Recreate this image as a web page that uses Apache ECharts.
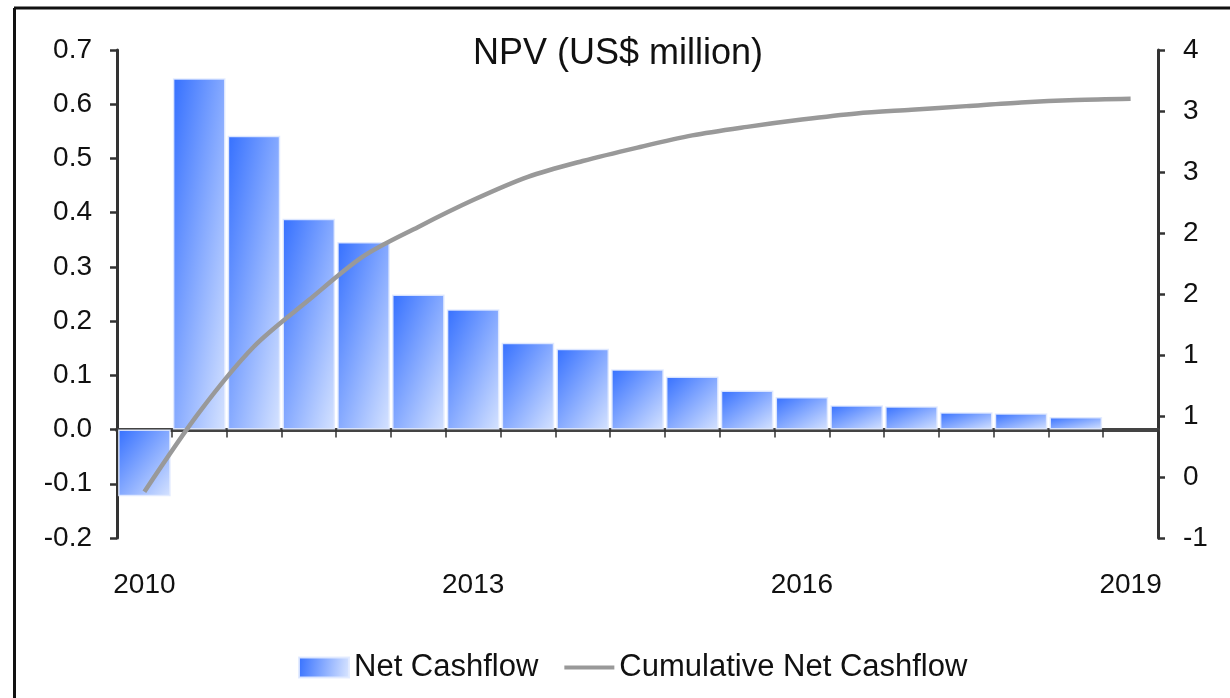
<!DOCTYPE html>
<html>
<head>
<meta charset="utf-8">
<title>NPV</title>
<script src="https://cdn.jsdelivr.net/npm/echarts@6/dist/echarts.min.js"></script>
<style>
  html, body { margin: 0; padding: 0; background: #fff; }
  #chart { width: 1230px; height: 698px; }
</style>
</head>
<body>
<div id="chart"></div>
<script>
// half-year periods, only every 6th one gets a label
const periods = ['2010', '2010.5', '2011', '2011.5', '2012', '2012.5', '2013', '2013.5', '2014', '2014.5',
  '2015', '2015.5', '2016', '2016.5', '2017', '2017.5', '2018', '2018.5', '2019']
const netCashflow = [-0.123, 0.648, 0.542, 0.389, 0.346, 0.249, 0.222, 0.160, 0.149, 0.111,
  0.098, 0.072, 0.060, 0.045, 0.043, 0.032, 0.030, 0.023, null]
const cumulativeCashflow = [-0.12, 0.53, 1.07, 1.45, 1.81, 2.05, 2.27, 2.46, 2.59, 2.70,
  2.80, 2.87, 2.93, 2.98, 3.01, 3.04, 3.07, 3.09, 3.10]
const leftTicks = { min: -0.2, max: 0.7, step: 0.1 }
const rightTicks = { min: -0.5, max: 3.5, step: 0.5 }

const font = '"Liberation Sans", Arial, sans-serif'
const chart = echarts.init(document.getElementById('chart'))

const grid = { left: 117, right: 72, top: 50, bottom: 160 }
const plotW = 1230 - grid.left - grid.right
const plotH = 698 - grid.top - grid.bottom
const blueDark = '#3570ff'
const blueLight = '#d6e3ff'

// excel style rounding, half away from zero
function roundAway(v) {
  return v < 0 ? -Math.round(-v) : Math.round(v)
}

// excel's diagonal fill: colour bands run along the bar's anti-diagonal,
// so work out the gradient vector from the bar's rough pixel size
function barFill(params) {
  const w = plotW / periods.length * 0.96
  const h = Math.max(Math.abs(params.value) / (leftTicks.max - leftTicks.min) * plotH, 1)
  const x2 = 2 * h * h / (h * h + w * w)
  const y2 = 2 * w * w / (h * h + w * w)
  return new echarts.graphic.LinearGradient(0, 0, x2, y2, [
    { offset: 0, color: blueDark },
    { offset: 1, color: blueLight }
  ])
}

const option = {
  backgroundColor: '#fff',
  animation: false,
  title: {
    text: 'NPV (US$ million)',
    left: 468,
    top: 31,
    textStyle: { color: '#111', fontSize: 36, fontWeight: 'normal', fontFamily: font }
  },
  legend: {
    left: 293,
    top: 647,
    itemWidth: 50,
    itemHeight: 20,
    itemGap: 26,
    textStyle: { color: '#111', fontSize: 31, fontFamily: font },
    data: [
      {
        name: 'Net Cashflow',
        icon: 'rect',
        itemStyle: {
          color: new echarts.graphic.LinearGradient(0, 0, 1, 0.3, [
            { offset: 0, color: blueDark },
            { offset: 1, color: blueLight }
          ])
        }
      },
      { name: 'Cumulative Net Cashflow', icon: 'path://M0,0h60v5h-60z' }
    ]
  },
  grid: { left: grid.left, right: grid.right, top: grid.top, bottom: grid.bottom, containLabel: false },
  xAxis: [{
    type: 'category',
    data: periods,
    position: 'bottom',
    axisLine: { show: false, onZero: false },
    axisTick: { show: false },
    axisLabel: {
      interval: 5,
      margin: 33,
      color: '#111',
      fontSize: 28,
      fontFamily: font
    },
    splitLine: { show: false }
  }, {
    // zero line with the little ticks hanging below it
    type: 'category',
    data: periods,
    position: 'bottom',
    axisLine: { show: true, onZero: true, onZeroAxisIndex: 0, lineStyle: { color: '#444', width: 4 } },
    axisTick: { show: true, interval: 0, length: 8, lineStyle: { color: '#333', width: 1.5 } },
    axisLabel: { show: false },
    splitLine: { show: false }
  }],
  yAxis: [{
    type: 'value',
    position: 'left',
    min: leftTicks.min,
    max: leftTicks.max,
    interval: leftTicks.step,
    axisLine: { show: true, onZero: false, lineStyle: { color: '#333', width: 3 } },
    axisTick: { show: true, length: 7, lineStyle: { color: '#333', width: 2.5 } },
    axisLabel: {
      margin: 25,
      color: '#111',
      fontSize: 28,
      fontFamily: font,
      formatter: v => v.toFixed(1)
    },
    splitLine: { show: false }
  }, {
    type: 'value',
    position: 'right',
    min: rightTicks.min,
    max: rightTicks.max,
    interval: rightTicks.step,
    axisLine: { show: true, onZero: false, lineStyle: { color: '#333', width: 3 } },
    axisTick: { show: true, length: 7, lineStyle: { color: '#333', width: 2.5 } },
    axisLabel: {
      margin: 25,
      color: '#111',
      fontSize: 28,
      fontFamily: font,
      formatter: v => String(roundAway(v))
    },
    splitLine: { show: false }
  }],
  series: [{
    name: 'Net Cashflow',
    type: 'bar',
    xAxisIndex: 0,
    yAxisIndex: 0,
    data: netCashflow,
    barCategoryGap: '4%',
    itemStyle: {
      color: barFill,
      borderColor: 'rgba(225,234,255,0.9)',
      borderWidth: 1.5
    }
  }, {
    name: 'Cumulative Net Cashflow',
    type: 'line',
    xAxisIndex: 0,
    yAxisIndex: 1,
    data: cumulativeCashflow,
    smooth: 0.3,
    symbol: 'none',
    lineStyle: { color: '#999', width: 4.5 },
    itemStyle: { color: '#999' }
  }],
  graphic: [{
    // frame: top and left edges only
    type: 'line',
    shape: { x1: 14, y1: 8, x2: 1230, y2: 8 },
    style: { stroke: '#111', lineWidth: 3 }
  }, {
    type: 'line',
    shape: { x1: 14.5, y1: 8, x2: 14.5, y2: 698 },
    style: { stroke: '#111', lineWidth: 3 }
  }]
}

chart.setOption(option)
</script>
</body>
</html>
